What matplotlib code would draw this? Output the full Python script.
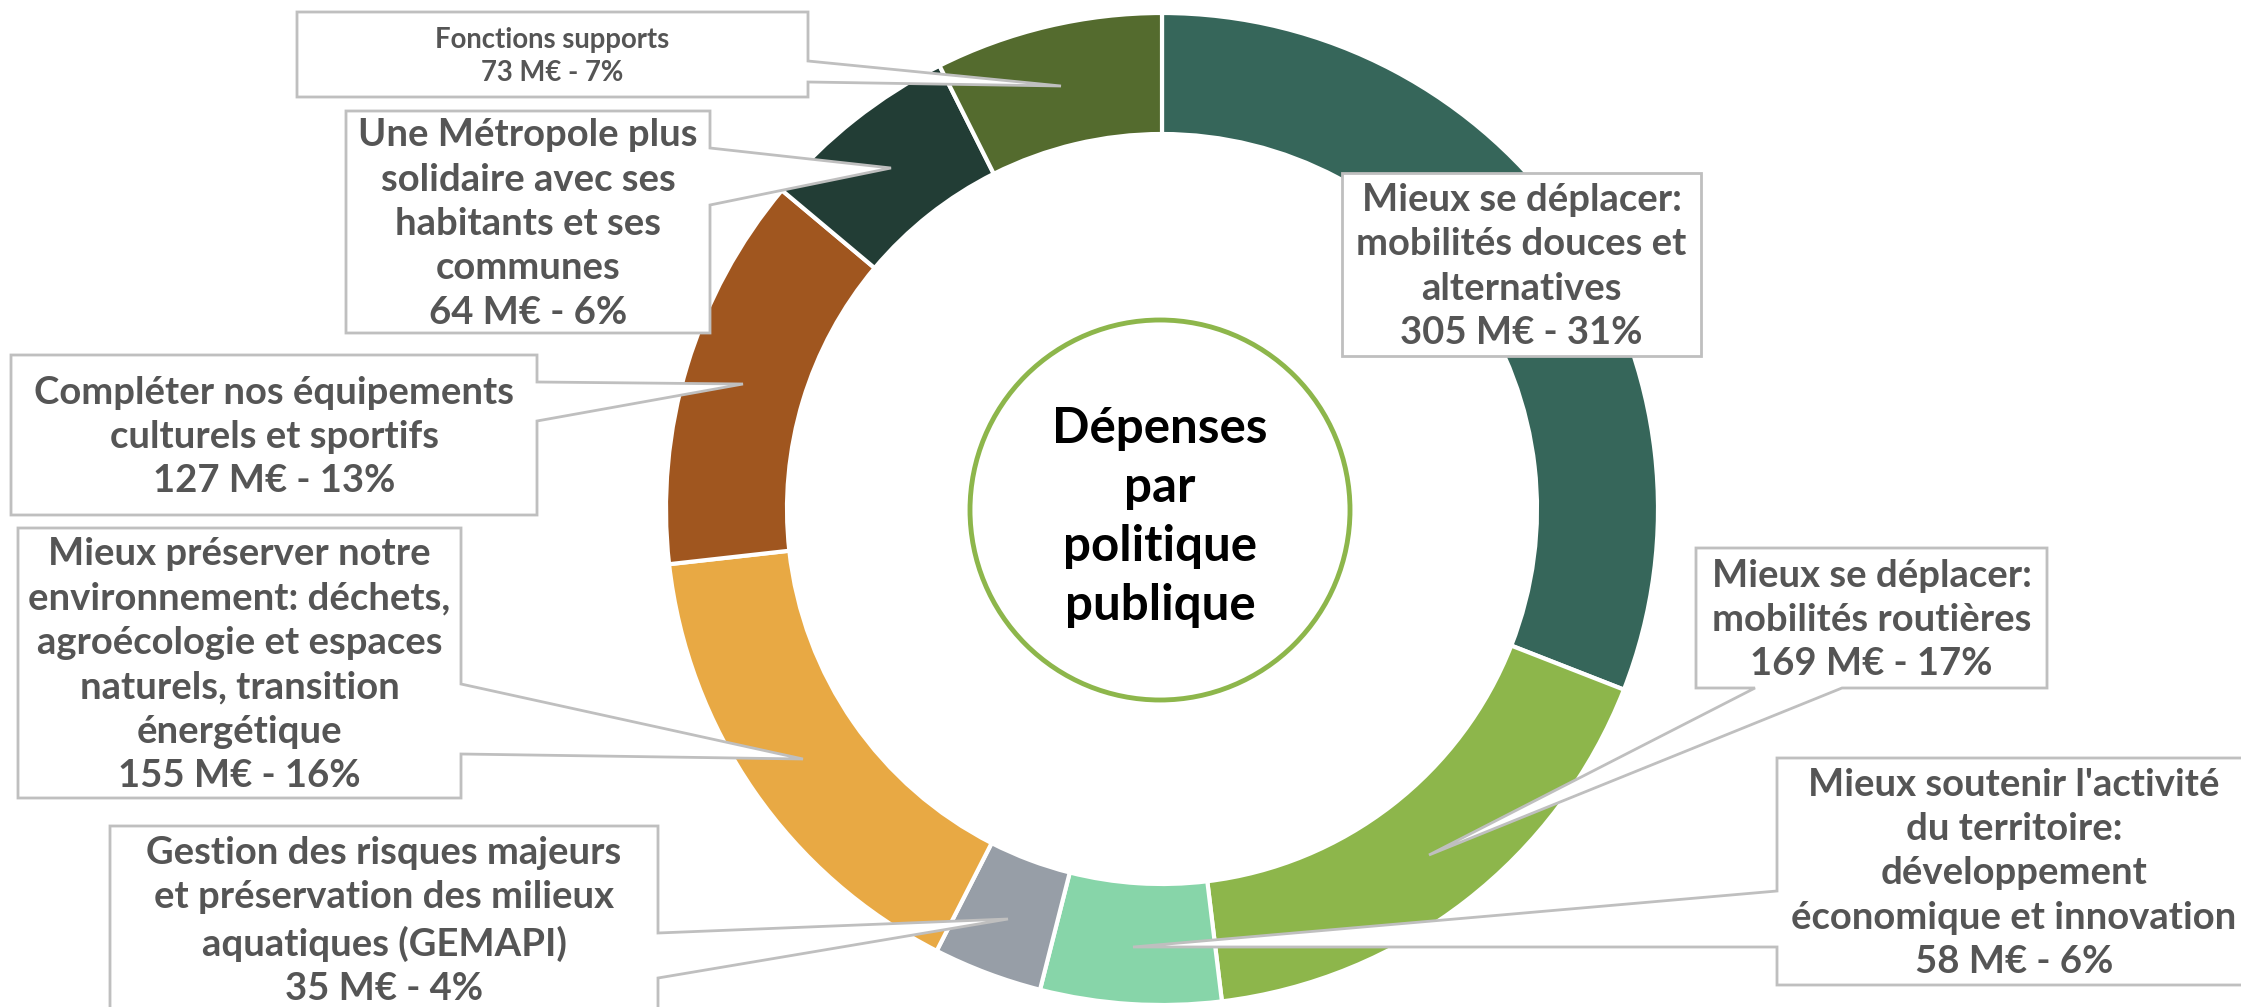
import matplotlib
matplotlib.use('Agg')
import matplotlib.pyplot as plt
from matplotlib.patches import Polygon, Circle

plt.rcParams['font.family'] = ['Lato', 'DejaVu Sans']

# ================================
# Données
# ================================
labels = [
    "Mieux se déplacer:\nmobilités douces et\nalternatives",
    "Mieux se déplacer:\nmobilités routières",
    "Mieux soutenir l'activité\ndu territoire:\ndéveloppement\néconomique et innovation",
    "Gestion des risques majeurs\net préservation des milieux\naquatiques (GEMAPI)",
    "Mieux préserver notre\nenvironnement: déchets,\nagroécologie et espaces\nnaturels, transition\nénergétique",
    "Compléter nos équipements\nculturels et sportifs",
    "Une Métropole plus\nsolidaire avec ses\nhabitants et ses\ncommunes",
    "Fonctions supports",
]
values = [305, 169, 58, 35, 155, 127, 64, 73]  # M€
percents = [31, 17, 6, 4, 16, 13, 6, 7]
colors = ['#36665A', '#8DB64B', '#87D5A9', '#979EA7',
          '#E8A944', '#A0561F', '#223D35', '#546B2E']
center_title = "Dépenses\npar\npolitique\npublique"

# Mise en page des bulles (en pixels, y vers le bas)
# (gauche, haut, droite, bas), côté de la pointe, base de la pointe, pointe
boxes = [
    ((1342, 173, 1701, 356), None, None, None),
    ((1696, 548, 2047, 688), 'bottom', (1755, 1842), (1429, 855)),
    ((1777, 758, 2251, 985), 'left', (891, 947), (1133, 947)),
    ((110, 826, 658, 1012), 'right', (933, 978), (1008, 919)),
    ((18, 528, 461, 798), 'right', (684, 754), (803, 759)),
    ((11, 355, 537, 515), 'right', (382, 421), (743, 384)),
    ((346, 111, 710, 333), 'right', (148, 205), (891, 168)),
    ((297, 12, 808, 97), 'right', (61, 82), (1061, 86)),
]
font_sizes = [27.5, 27.5, 27.5, 27.5, 27.5, 27.5, 27.5, 19.8]

W, H = 2241, 1007
CX, CY, R = 1162, 509, 496
RING = 121
TEXT_COLOR = '#555555'
BORDER = '#BFBFBF'


def callout_points(box, side, base, tip):
    x0, y0, x1, y1 = box
    pts = [(x0, y0), (x1, y0)]
    if side == 'right':
        pts += [(x1, base[0]), tip, (x1, base[1])]
    pts.append((x1, y1))
    if side == 'bottom':
        pts += [(base[1], y1), tip, (base[0], y1)]
    pts.append((x0, y1))
    if side == 'left':
        pts += [(x0, base[1]), tip, (x0, base[0])]
    return pts


fig = plt.figure(figsize=(W / 100, H / 100), dpi=100)
ax = fig.add_axes([0, 0, 1, 1])

ax.pie(values, colors=colors, startangle=270, counterclock=True,
       radius=R, center=(CX, CY),
       wedgeprops=dict(width=RING, edgecolor='white', linewidth=3))

ax.set_xlim(0, W)
ax.set_ylim(H, 0)
ax.set_aspect('auto')
ax.axis('off')

# Cercle central
ax.add_patch(Circle((1160, 510), 190, facecolor='white', edgecolor='#8DB64B',
                    linewidth=3.5, zorder=3))
ax.text(1160, 517, center_title, ha='center', va='center', fontsize=35.5,
        fontweight='bold', color='black', linespacing=1.38, zorder=4)

# Bulles
for (box, side, base, tip), lab, v, p, fs in zip(boxes, labels, values, percents, font_sizes):
    pts = callout_points(box, side, base, tip)
    ax.add_patch(Polygon(pts, closed=True, facecolor='white', edgecolor=BORDER,
                         linewidth=2, joinstyle='miter', zorder=5))
    x0, y0, x1, y1 = box
    ax.text((x0 + x1) / 2, (y0 + y1) / 2 + 2, f'{lab}\n{v} M€ - {p}%',
            ha='center', va='center', fontsize=fs, fontweight='bold',
            color=TEXT_COLOR, linespacing=1.37, zorder=6)

fig.savefig('out.png', dpi=100)
